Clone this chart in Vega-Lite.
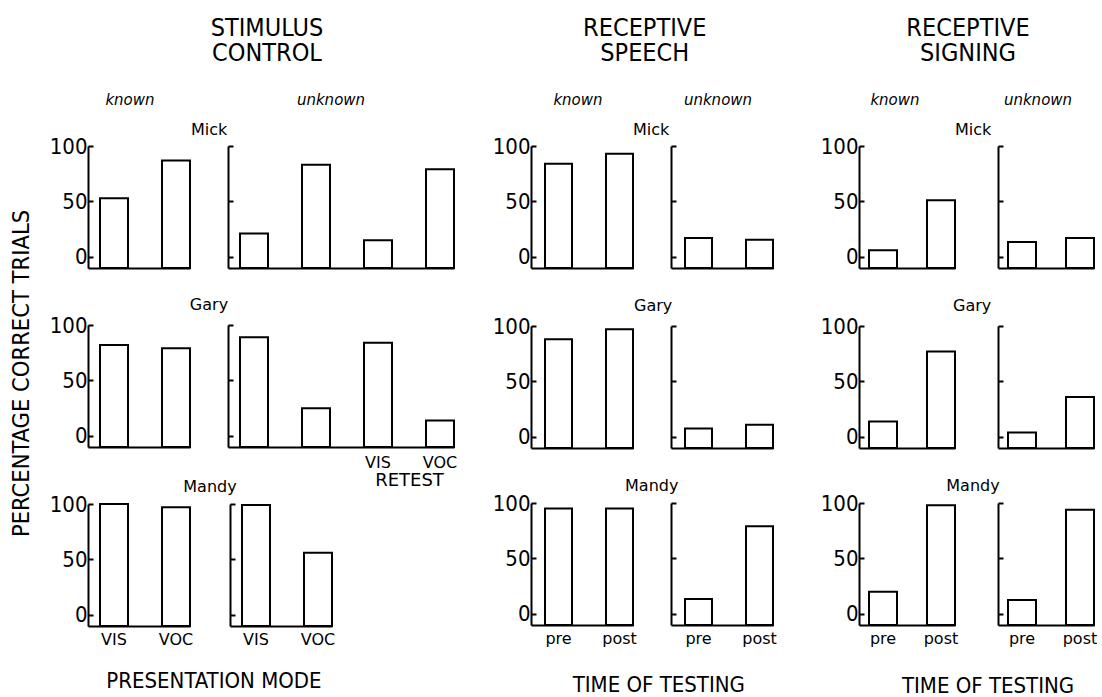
{
  "$schema": "https://vega.github.io/schema/vega-lite/v6.json",
  "padding": {"left": 9, "top": 16, "right": 0, "bottom": 0},
  "background": "white",
  "datasets": {
    "bars": [
      {"task": "stim", "subject": "Mick", "set": "known", "cond": "VIS", "pct": 53},
      {"task": "stim", "subject": "Mick", "set": "known", "cond": "VOC", "pct": 87},
      {"task": "stim", "subject": "Mick", "set": "unknown", "cond": "VIS", "pct": 21},
      {"task": "stim", "subject": "Mick", "set": "unknown", "cond": "VOC", "pct": 83},
      {"task": "stim", "subject": "Mick", "set": "unknown", "cond": "VIS retest", "pct": 15},
      {"task": "stim", "subject": "Mick", "set": "unknown", "cond": "VOC retest", "pct": 79},
      {"task": "stim", "subject": "Gary", "set": "known", "cond": "VIS", "pct": 82},
      {"task": "stim", "subject": "Gary", "set": "known", "cond": "VOC", "pct": 79},
      {"task": "stim", "subject": "Gary", "set": "unknown", "cond": "VIS", "pct": 89},
      {"task": "stim", "subject": "Gary", "set": "unknown", "cond": "VOC", "pct": 25},
      {"task": "stim", "subject": "Gary", "set": "unknown", "cond": "VIS retest", "pct": 84},
      {"task": "stim", "subject": "Gary", "set": "unknown", "cond": "VOC retest", "pct": 14},
      {"task": "stim", "subject": "Mandy", "set": "known", "cond": "VIS", "pct": 100},
      {"task": "stim", "subject": "Mandy", "set": "known", "cond": "VOC", "pct": 97},
      {"task": "stim", "subject": "Mandy", "set": "unknown", "cond": "VIS", "pct": 99},
      {"task": "stim", "subject": "Mandy", "set": "unknown", "cond": "VOC", "pct": 56},
      {"task": "speech", "subject": "Mick", "set": "known", "cond": "pre", "pct": 84},
      {"task": "speech", "subject": "Mick", "set": "known", "cond": "post", "pct": 93},
      {"task": "speech", "subject": "Mick", "set": "unknown", "cond": "pre", "pct": 17},
      {"task": "speech", "subject": "Mick", "set": "unknown", "cond": "post", "pct": 15.5},
      {"task": "speech", "subject": "Gary", "set": "known", "cond": "pre", "pct": 88},
      {"task": "speech", "subject": "Gary", "set": "known", "cond": "post", "pct": 97},
      {"task": "speech", "subject": "Gary", "set": "unknown", "cond": "pre", "pct": 7.5},
      {"task": "speech", "subject": "Gary", "set": "unknown", "cond": "post", "pct": 11},
      {"task": "speech", "subject": "Mandy", "set": "known", "cond": "pre", "pct": 95},
      {"task": "speech", "subject": "Mandy", "set": "known", "cond": "post", "pct": 95},
      {"task": "speech", "subject": "Mandy", "set": "unknown", "cond": "pre", "pct": 13.5},
      {"task": "speech", "subject": "Mandy", "set": "unknown", "cond": "post", "pct": 79},
      {"task": "sign", "subject": "Mick", "set": "known", "cond": "pre", "pct": 6},
      {"task": "sign", "subject": "Mick", "set": "known", "cond": "post", "pct": 51},
      {"task": "sign", "subject": "Mick", "set": "unknown", "cond": "pre", "pct": 13.5},
      {"task": "sign", "subject": "Mick", "set": "unknown", "cond": "post", "pct": 17},
      {"task": "sign", "subject": "Gary", "set": "known", "cond": "pre", "pct": 14},
      {"task": "sign", "subject": "Gary", "set": "known", "cond": "post", "pct": 77},
      {"task": "sign", "subject": "Gary", "set": "unknown", "cond": "pre", "pct": 4},
      {"task": "sign", "subject": "Gary", "set": "unknown", "cond": "post", "pct": 36},
      {"task": "sign", "subject": "Mandy", "set": "known", "cond": "pre", "pct": 20},
      {"task": "sign", "subject": "Mandy", "set": "known", "cond": "post", "pct": 98},
      {"task": "sign", "subject": "Mandy", "set": "unknown", "cond": "pre", "pct": 12.5},
      {"task": "sign", "subject": "Mandy", "set": "unknown", "cond": "post", "pct": 94}
    ]
  },
  "data": {"name": "bars"},
  "title": {
    "text": "PERCENTAGE CORRECT TRIALS",
    "orient": "left",
    "anchor": "middle",
    "frame": "bounds",
    "font": "DejaVu Sans Condensed, Liberation Sans Narrow, DejaVu Sans, sans-serif",
    "fontSize": 23.5,
    "baseline": "bottom",
    "offset": -8,
    "dx": -17
  },
  "spacing": 35,
  "hconcat": [
    {
      "title": {"text": "PRESENTATION MODE", "orient": "bottom", "anchor": "middle", "frame": "bounds", "font": "DejaVu Sans Condensed, Liberation Sans Narrow, DejaVu Sans, sans-serif", "fontSize": 22, "baseline": "top", "offset": 24, "dx": -39},
      "vconcat": [
        {
          "title": {"text": ["STIMULUS", "CONTROL"], "anchor": "middle", "frame": "bounds", "font": "DejaVu Sans Condensed, Liberation Sans Narrow, DejaVu Sans, sans-serif", "fontSize": 25, "lineHeight": 25, "baseline": "bottom", "offset": 2, "dx": 14},
          "spacing": -10,
          "vconcat": [
            {
              "spacing": 28,
              "vconcat": [
                {
                  "title": {"text": "Mick", "anchor": "middle", "frame": "bounds", "fontSize": 16, "baseline": "alphabetic", "offset": -58, "dx": -43},
                  "spacing": 36,
                  "hconcat": [
                    {
                      "width": 102, "height": 122,
                      "title": {"text": "known", "fontStyle": "italic", "fontSize": 15, "baseline": "alphabetic", "offset": 15, "dx": -9},
                      "transform": [{"filter": "datum.task === 'stim' && datum.subject === 'Mick' && datum.set === 'known'"}],
                      "mark": {"type": "bar", "fill": "white", "stroke": "black", "strokeWidth": 2},
                      "encoding": {
                        "x": {"field": "cond", "type": "nominal", "sort": null, "scale": {"paddingInner": 0.5484, "paddingOuter": 0.0968, "align": 1}, "axis": {"title": null}},
                        "y": {"field": "pct", "type": "quantitative", "scale": {"domain": [-10, 100], "nice": false, "zero": false}, "axis": {"title": null}},
                        "y2": {"datum": -10}
                      }
                    },
                    {
                      "width": 226, "height": 122,
                      "title": {"text": "unknown", "fontStyle": "italic", "fontSize": 15, "baseline": "alphabetic", "offset": 25, "dx": -10},
                      "transform": [{"filter": "datum.task === 'stim' && datum.subject === 'Mick' && datum.set === 'unknown'"}],
                      "mark": {"type": "bar", "fill": "white", "stroke": "black", "strokeWidth": 2},
                      "encoding": {
                        "x": {"field": "cond", "type": "nominal", "sort": null, "scale": {"paddingInner": 0.5484, "paddingOuter": 0.0968, "align": 1}, "axis": {"title": null}},
                        "y": {"field": "pct", "type": "quantitative", "scale": {"domain": [-10, 100], "nice": false, "zero": false}, "axis": {"title": null, "labels": false}},
                        "y2": {"datum": -10}
                      }
                    }
                  ]
                },
                {
                  "title": {"text": "Gary", "anchor": "middle", "frame": "bounds", "fontSize": 16, "baseline": "alphabetic", "offset": -12, "dx": -44},
                  "spacing": 36,
                  "hconcat": [
                    {
                      "width": 102, "height": 122,
                      "transform": [{"filter": "datum.task === 'stim' && datum.subject === 'Gary' && datum.set === 'known'"}],
                      "mark": {"type": "bar", "fill": "white", "stroke": "black", "strokeWidth": 2},
                      "encoding": {
                        "x": {"field": "cond", "type": "nominal", "sort": null, "scale": {"paddingInner": 0.5484, "paddingOuter": 0.0968, "align": 1}, "axis": {"title": null}},
                        "y": {"field": "pct", "type": "quantitative", "scale": {"domain": [-10, 100], "nice": false, "zero": false}, "axis": {"title": null}},
                        "y2": {"datum": -10}
                      }
                    },
                    {
                      "width": 226, "height": 122,
                      "transform": [{"filter": "datum.task === 'stim' && datum.subject === 'Gary' && datum.set === 'unknown'"}],
                      "mark": {"type": "bar", "fill": "white", "stroke": "black", "strokeWidth": 2},
                      "encoding": {
                        "x": {"field": "cond", "type": "nominal", "sort": null, "scale": {"paddingInner": 0.5484, "paddingOuter": 0.0968, "align": 1},
                          "axis": {"labels": true, "labelPadding": 7, "labelExpr": "indexof(datum.value, 'retest') >= 0 ? replace(datum.value, ' retest', '') : ''",
                            "title": "RETEST", "titleX": 181, "titleY": 24, "titleAlign": "center", "titleBaseline": "top"}},
                        "y": {"field": "pct", "type": "quantitative", "scale": {"domain": [-10, 100], "nice": false, "zero": false}, "axis": {"title": null, "labels": false}},
                        "y2": {"datum": -10}
                      }
                    }
                  ]
                }
              ]
            },
            {
              "title": {"text": "Mandy", "anchor": "middle", "frame": "bounds", "fontSize": 16, "baseline": "alphabetic", "offset": -15, "dx": 18},
              "spacing": 36,
              "hconcat": [
                {
                  "width": 102, "height": 122,
                  "transform": [{"filter": "datum.task === 'stim' && datum.subject === 'Mandy' && datum.set === 'known'"}],
                  "mark": {"type": "bar", "fill": "white", "stroke": "black", "strokeWidth": 2},
                  "encoding": {
                    "x": {"field": "cond", "type": "nominal", "sort": null, "scale": {"paddingInner": 0.5484, "paddingOuter": 0.0968, "align": 1}, "axis": {"title": null, "labels": true}},
                    "y": {"field": "pct", "type": "quantitative", "scale": {"domain": [-10, 100], "nice": false, "zero": false}, "axis": {"title": null}},
                    "y2": {"datum": -10}
                  }
                },
                {
                  "width": 102, "height": 122,
                  "transform": [{"filter": "datum.task === 'stim' && datum.subject === 'Mandy' && datum.set === 'unknown'"}],
                  "mark": {"type": "bar", "fill": "white", "stroke": "black", "strokeWidth": 2},
                  "encoding": {
                    "x": {"field": "cond", "type": "nominal", "sort": null, "scale": {"paddingInner": 0.5484, "paddingOuter": 0.0968, "align": 1}, "axis": {"title": null, "labels": true}},
                    "y": {"field": "pct", "type": "quantitative", "scale": {"domain": [-10, 100], "nice": false, "zero": false}, "axis": {"title": null, "labels": false}},
                    "y2": {"datum": -10}
                  }
                }
              ]
            }
          ]
        }
      ]
    },
    {
      "spacing": 43,
      "hconcat": [
        {
          "title": {"text": "TIME OF TESTING", "orient": "bottom", "anchor": "middle", "frame": "bounds", "font": "DejaVu Sans Condensed, Liberation Sans Narrow, DejaVu Sans, sans-serif", "fontSize": 22, "baseline": "top", "offset": 29, "dx": 24.5},
          "vconcat": [
            {
              "title": {"text": ["RECEPTIVE", "SPEECH"], "anchor": "middle", "frame": "bounds", "font": "DejaVu Sans Condensed, Liberation Sans Narrow, DejaVu Sans, sans-serif", "fontSize": 25, "lineHeight": 25, "baseline": "bottom", "offset": 2, "dx": 10.5},
              "spacing": 29,
              "vconcat": [
                {
                  "title": {"text": "Mick", "anchor": "middle", "frame": "bounds", "fontSize": 16, "baseline": "alphabetic", "offset": -58, "dx": 18},
                  "spacing": 36,
                  "hconcat": [
                    {
                      "width": 102, "height": 122,
                      "title": {"text": "known", "fontStyle": "italic", "fontSize": 15, "baseline": "alphabetic", "offset": 15, "dx": -4},
                      "transform": [{"filter": "datum.task === 'speech' && datum.subject === 'Mick' && datum.set === 'known'"}],
                      "mark": {"type": "bar", "fill": "white", "stroke": "black", "strokeWidth": 2},
                      "encoding": {
                        "x": {"field": "cond", "type": "nominal", "sort": null, "scale": {"paddingInner": 0.5574, "paddingOuter": 0.1148, "align": 1}, "axis": {"title": null}},
                        "y": {"field": "pct", "type": "quantitative", "scale": {"domain": [-10, 100], "nice": false, "zero": false}, "axis": {"title": null}},
                        "y2": {"datum": -10}
                      }
                    },
                    {
                      "width": 102, "height": 122,
                      "title": {"text": "unknown", "fontStyle": "italic", "fontSize": 15, "baseline": "alphabetic", "offset": 25, "dx": -4},
                      "transform": [{"filter": "datum.task === 'speech' && datum.subject === 'Mick' && datum.set === 'unknown'"}],
                      "mark": {"type": "bar", "fill": "white", "stroke": "black", "strokeWidth": 2},
                      "encoding": {
                        "x": {"field": "cond", "type": "nominal", "sort": null, "scale": {"paddingInner": 0.5574, "paddingOuter": 0.1148, "align": 1}, "axis": {"title": null}},
                        "y": {"field": "pct", "type": "quantitative", "scale": {"domain": [-10, 100], "nice": false, "zero": false}, "axis": {"title": null, "labels": false}},
                        "y2": {"datum": -10}
                      }
                    }
                  ]
                },
                {
                  "title": {"text": "Gary", "anchor": "middle", "frame": "bounds", "fontSize": 16, "baseline": "alphabetic", "offset": -12, "dx": 20},
                  "spacing": 36,
                  "hconcat": [
                    {
                      "width": 102, "height": 122,
                      "transform": [{"filter": "datum.task === 'speech' && datum.subject === 'Gary' && datum.set === 'known'"}],
                      "mark": {"type": "bar", "fill": "white", "stroke": "black", "strokeWidth": 2},
                      "encoding": {
                        "x": {"field": "cond", "type": "nominal", "sort": null, "scale": {"paddingInner": 0.5574, "paddingOuter": 0.1148, "align": 1}, "axis": {"title": null}},
                        "y": {"field": "pct", "type": "quantitative", "scale": {"domain": [-10, 100], "nice": false, "zero": false}, "axis": {"title": null}},
                        "y2": {"datum": -10}
                      }
                    },
                    {
                      "width": 102, "height": 122,
                      "transform": [{"filter": "datum.task === 'speech' && datum.subject === 'Gary' && datum.set === 'unknown'"}],
                      "mark": {"type": "bar", "fill": "white", "stroke": "black", "strokeWidth": 2},
                      "encoding": {
                        "x": {"field": "cond", "type": "nominal", "sort": null, "scale": {"paddingInner": 0.5574, "paddingOuter": 0.1148, "align": 1}, "axis": {"title": null}},
                        "y": {"field": "pct", "type": "quantitative", "scale": {"domain": [-10, 100], "nice": false, "zero": false}, "axis": {"title": null, "labels": false}},
                        "y2": {"datum": -10}
                      }
                    }
                  ]
                },
                {
                  "title": {"text": "Mandy", "anchor": "middle", "frame": "bounds", "fontSize": 16, "baseline": "alphabetic", "offset": -15, "dx": 17.5},
                  "spacing": 33,
                  "hconcat": [
                    {
                      "width": 102, "height": 122,
                      "transform": [{"filter": "datum.task === 'speech' && datum.subject === 'Mandy' && datum.set === 'known'"}],
                      "mark": {"type": "bar", "fill": "white", "stroke": "black", "strokeWidth": 2},
                      "encoding": {
                        "x": {"field": "cond", "type": "nominal", "sort": null, "scale": {"paddingInner": 0.5574, "paddingOuter": 0.1148, "align": 1}, "axis": {"title": null, "labels": true}},
                        "y": {"field": "pct", "type": "quantitative", "scale": {"domain": [-10, 100], "nice": false, "zero": false}, "axis": {"title": null}},
                        "y2": {"datum": -10}
                      }
                    },
                    {
                      "width": 102, "height": 122,
                      "transform": [{"filter": "datum.task === 'speech' && datum.subject === 'Mandy' && datum.set === 'unknown'"}],
                      "mark": {"type": "bar", "fill": "white", "stroke": "black", "strokeWidth": 2},
                      "encoding": {
                        "x": {"field": "cond", "type": "nominal", "sort": null, "scale": {"paddingInner": 0.5574, "paddingOuter": 0.1148, "align": 1}, "axis": {"title": null, "labels": true}},
                        "y": {"field": "pct", "type": "quantitative", "scale": {"domain": [-10, 100], "nice": false, "zero": false}, "axis": {"title": null, "labels": false}},
                        "y2": {"datum": -10}
                      }
                    }
                  ]
                }
              ]
            }
          ]
        },
        {
          "title": {"text": "TIME OF TESTING", "orient": "bottom", "anchor": "middle", "frame": "bounds", "font": "DejaVu Sans Condensed, Liberation Sans Narrow, DejaVu Sans, sans-serif", "fontSize": 22, "baseline": "top", "offset": 30, "dx": 29.5},
          "vconcat": [
            {
              "title": {"text": ["RECEPTIVE", "SIGNING"], "anchor": "middle", "frame": "bounds", "font": "DejaVu Sans Condensed, Liberation Sans Narrow, DejaVu Sans, sans-serif", "fontSize": 25, "lineHeight": 25, "baseline": "bottom", "offset": 2, "dx": 9.5},
              "spacing": 29,
              "vconcat": [
                {
                  "title": {"text": "Mick", "anchor": "middle", "frame": "bounds", "fontSize": 16, "baseline": "alphabetic", "offset": -58, "dx": 15.5},
                  "spacing": 41,
                  "hconcat": [
                    {
                      "width": 96, "height": 122,
                      "title": {"text": "known", "fontStyle": "italic", "fontSize": 15, "baseline": "alphabetic", "offset": 15, "dx": -12},
                      "transform": [{"filter": "datum.task === 'sign' && datum.subject === 'Mick' && datum.set === 'known'"}],
                      "mark": {"type": "bar", "fill": "white", "stroke": "black", "strokeWidth": 2},
                      "encoding": {
                        "x": {"field": "cond", "type": "nominal", "sort": null, "scale": {"paddingInner": 0.5172, "paddingOuter": 0.0862, "align": 1}, "axis": {"title": null}},
                        "y": {"field": "pct", "type": "quantitative", "scale": {"domain": [-10, 100], "nice": false, "zero": false}, "axis": {"title": null}},
                        "y2": {"datum": -10}
                      }
                    },
                    {
                      "width": 96, "height": 122,
                      "title": {"text": "unknown", "fontStyle": "italic", "fontSize": 15, "baseline": "alphabetic", "offset": 25, "dx": -8},
                      "transform": [{"filter": "datum.task === 'sign' && datum.subject === 'Mick' && datum.set === 'unknown'"}],
                      "mark": {"type": "bar", "fill": "white", "stroke": "black", "strokeWidth": 2},
                      "encoding": {
                        "x": {"field": "cond", "type": "nominal", "sort": null, "scale": {"paddingInner": 0.5172, "paddingOuter": 0.0862, "align": 1}, "axis": {"title": null}},
                        "y": {"field": "pct", "type": "quantitative", "scale": {"domain": [-10, 100], "nice": false, "zero": false}, "axis": {"title": null, "labels": false}},
                        "y2": {"datum": -10}
                      }
                    }
                  ]
                },
                {
                  "title": {"text": "Gary", "anchor": "middle", "frame": "bounds", "fontSize": 16, "baseline": "alphabetic", "offset": -12, "dx": 14.5},
                  "spacing": 41,
                  "hconcat": [
                    {
                      "width": 96, "height": 122,
                      "transform": [{"filter": "datum.task === 'sign' && datum.subject === 'Gary' && datum.set === 'known'"}],
                      "mark": {"type": "bar", "fill": "white", "stroke": "black", "strokeWidth": 2},
                      "encoding": {
                        "x": {"field": "cond", "type": "nominal", "sort": null, "scale": {"paddingInner": 0.5172, "paddingOuter": 0.0862, "align": 1}, "axis": {"title": null}},
                        "y": {"field": "pct", "type": "quantitative", "scale": {"domain": [-10, 100], "nice": false, "zero": false}, "axis": {"title": null}},
                        "y2": {"datum": -10}
                      }
                    },
                    {
                      "width": 96, "height": 122,
                      "transform": [{"filter": "datum.task === 'sign' && datum.subject === 'Gary' && datum.set === 'unknown'"}],
                      "mark": {"type": "bar", "fill": "white", "stroke": "black", "strokeWidth": 2},
                      "encoding": {
                        "x": {"field": "cond", "type": "nominal", "sort": null, "scale": {"paddingInner": 0.5172, "paddingOuter": 0.0862, "align": 1}, "axis": {"title": null}},
                        "y": {"field": "pct", "type": "quantitative", "scale": {"domain": [-10, 100], "nice": false, "zero": false}, "axis": {"title": null, "labels": false}},
                        "y2": {"datum": -10}
                      }
                    }
                  ]
                },
                {
                  "title": {"text": "Mandy", "anchor": "middle", "frame": "bounds", "fontSize": 16, "baseline": "alphabetic", "offset": -15, "dx": 14.5},
                  "spacing": 39,
                  "hconcat": [
                    {
                      "width": 96, "height": 122,
                      "transform": [{"filter": "datum.task === 'sign' && datum.subject === 'Mandy' && datum.set === 'known'"}],
                      "mark": {"type": "bar", "fill": "white", "stroke": "black", "strokeWidth": 2},
                      "encoding": {
                        "x": {"field": "cond", "type": "nominal", "sort": null, "scale": {"paddingInner": 0.5172, "paddingOuter": 0.0862, "align": 1}, "axis": {"title": null, "labels": true}},
                        "y": {"field": "pct", "type": "quantitative", "scale": {"domain": [-10, 100], "nice": false, "zero": false}, "axis": {"title": null}},
                        "y2": {"datum": -10}
                      }
                    },
                    {
                      "width": 96, "height": 122,
                      "transform": [{"filter": "datum.task === 'sign' && datum.subject === 'Mandy' && datum.set === 'unknown'"}],
                      "mark": {"type": "bar", "fill": "white", "stroke": "black", "strokeWidth": 2},
                      "encoding": {
                        "x": {"field": "cond", "type": "nominal", "sort": null, "scale": {"paddingInner": 0.5172, "paddingOuter": 0.0862, "align": 1}, "axis": {"title": null, "labels": true}},
                        "y": {"field": "pct", "type": "quantitative", "scale": {"domain": [-10, 100], "nice": false, "zero": false}, "axis": {"title": null, "labels": false}},
                        "y2": {"datum": -10}
                      }
                    }
                  ]
                }
              ]
            }
          ]
        }
      ]
    }
  ],
  "config": {
    "view": {"stroke": null},
    "font": "DejaVu Sans",
    "axis": {"grid": false, "domainColor": "black", "tickColor": "black", "labelColor": "black", "titleColor": "black"},
    "axisX": {"ticks": false, "labels": false, "domainWidth": 2, "labelFont": "DejaVu Sans", "labelFontSize": 16, "labelPadding": 5, "labelAngle": 0, "titleFont": "DejaVu Sans", "titleFontSize": 18, "titleFontWeight": "normal"},
    "axisY": {"tickCount": 3, "tickSize": -5, "tickWidth": 2, "domainWidth": 2, "labelFont": "DejaVu Sans Condensed, Liberation Sans Narrow, DejaVu Sans, sans-serif", "labelFontSize": 22, "labelPadding": 6, "labelFlush": false, "labelBaseline": "middle"},
    "title": {"color": "black", "fontWeight": "normal", "frame": "group", "font": "DejaVu Sans"}
  }
}
